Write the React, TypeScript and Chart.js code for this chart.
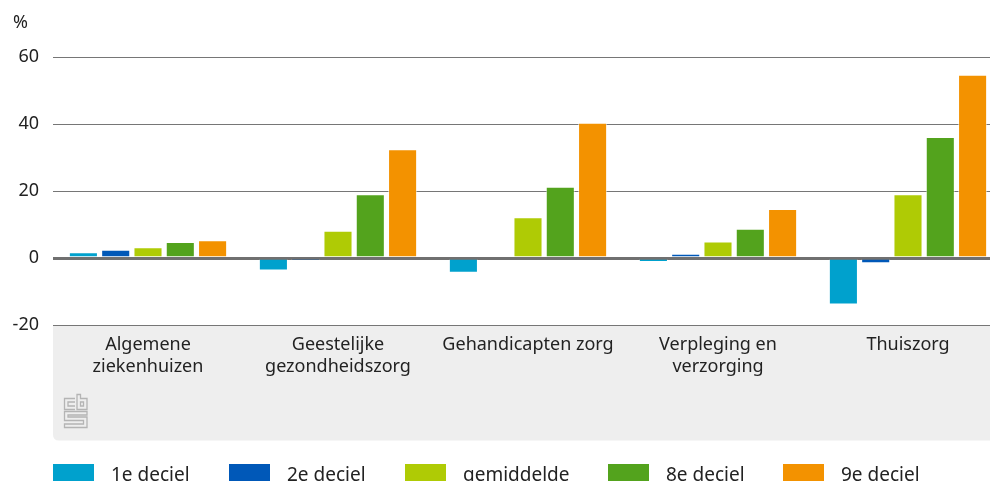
import React, { useEffect, useRef } from "react";
import { Chart, registerables } from "chart.js";

Chart.register(...registerables);

const categories: string[][] = [
  ["Algemene", "ziekenhuizen"],
  ["Geestelijke", "gezondheidszorg"],
  ["Gehandicapten zorg"],
  ["Verpleging en", "verzorging"],
  ["Thuiszorg"],
];
const seriesNames = ["1e deciel", "2e deciel", "gemiddelde", "8e deciel", "9e deciel"];
const seriesColors = ["#00A1CD", "#0058B8", "#AFCB05", "#53A31D", "#F39200"];
const deciel1 = [1.7, -3.7, -4.4, -1.2, -13.9];
const deciel2 = [2.5, -0.8, 0.4, 1.3, -1.6];
const gemiddelde = [3.2, 8.1, 12.2, 4.9, 19.0];
const deciel8 = [4.8, 19.0, 21.3, 8.7, 36.1];
const deciel9 = [5.3, 32.5, 40.4, 14.6, 54.7];
const yTicks = [-20, 0, 20, 40, 60];
const unitLabel = "%";

const FONT = "'Noto Sans', sans-serif";
const VIEW_W = 990;
const CANVAS_W = 1003;
const H = 481;
const LEGEND_X = [53, 229, 405, 608, 783];

const decorPlugin = {
  id: "decor",
  beforeDraw(chart: any) {
    const ctx = chart.ctx;
    const a = chart.chartArea;
    ctx.save();
    // gray label band
    const x0 = a.left, y0 = a.bottom, x1 = chart.width, y1 = 440.5, r = 6;
    ctx.fillStyle = "#eeeeee";
    ctx.beginPath();
    ctx.moveTo(x0, y0);
    ctx.lineTo(x1, y0);
    ctx.lineTo(x1, y1);
    ctx.lineTo(x0 + r, y1);
    ctx.quadraticCurveTo(x0, y1, x0, y1 - r);
    ctx.closePath();
    ctx.fill();
    // cbs logo
    ctx.strokeStyle = "#b4b4b4";
    ctx.lineWidth = 1.3;
    const lx = 64.5, ly = 394.5;
    // c
    ctx.beginPath();
    ctx.moveTo(lx + 10.5, ly + 4);
    ctx.lineTo(lx, ly + 4);
    ctx.lineTo(lx, ly + 15);
    ctx.lineTo(lx + 10.5, ly + 15);
    ctx.moveTo(lx + 10.5, ly + 7.5);
    ctx.lineTo(lx + 3.5, ly + 7.5);
    ctx.lineTo(lx + 3.5, ly + 11.5);
    ctx.lineTo(lx + 10.5, ly + 11.5);
    ctx.stroke();
    // b
    ctx.beginPath();
    ctx.moveTo(lx + 12.5, ly);
    ctx.lineTo(lx + 12.5, ly + 15);
    ctx.lineTo(lx + 22.5, ly + 15);
    ctx.lineTo(lx + 22.5, ly + 4);
    ctx.lineTo(lx + 16, ly + 4);
    ctx.lineTo(lx + 16, ly);
    ctx.closePath();
    ctx.moveTo(lx + 16, ly + 7.5);
    ctx.lineTo(lx + 19, ly + 7.5);
    ctx.lineTo(lx + 19, ly + 11.5);
    ctx.lineTo(lx + 16, ly + 11.5);
    ctx.closePath();
    ctx.stroke();
    // s meander
    ctx.beginPath();
    ctx.moveTo(lx + 22.5, ly + 17);
    ctx.lineTo(lx, ly + 17);
    ctx.lineTo(lx, ly + 26);
    ctx.lineTo(lx + 19, ly + 26);
    ctx.lineTo(lx + 19, ly + 29.5);
    ctx.lineTo(lx, ly + 29.5);
    ctx.lineTo(lx, ly + 33);
    ctx.lineTo(lx + 22.5, ly + 33);
    ctx.lineTo(lx + 22.5, ly + 22.5);
    ctx.lineTo(lx + 3.5, ly + 22.5);
    ctx.lineTo(lx + 3.5, ly + 20.5);
    ctx.lineTo(lx + 22.5, ly + 20.5);
    ctx.closePath();
    ctx.stroke();
    ctx.restore();
  },
  afterDraw(chart: any) {
    const ctx = chart.ctx;
    ctx.save();
    ctx.font = `18px ${FONT}`;
    ctx.fillStyle = "#222222";
    ctx.textBaseline = "alphabetic";
    ctx.textAlign = "left";
    ctx.fillText(unitLabel, 13, 28);
    // legend
    chart.data.datasets.forEach((ds: any, i: number) => {
      const x = LEGEND_X[i];
      ctx.fillStyle = ds.backgroundColor;
      ctx.fillRect(x, 464, 41, 20);
      ctx.fillStyle = "#222222";
      ctx.font = `19px ${FONT}`;
      ctx.fillText(ds.label, x + 58, 481);
    });
    ctx.restore();
  },
};

export default function App() {
  const ref = useRef<HTMLCanvasElement | null>(null);
  useEffect(() => {
    document.body.style.margin = "0";
    const values = [deciel1, deciel2, gemiddelde, deciel8, deciel9];
    const chart = new Chart(ref.current as HTMLCanvasElement, {
      type: "bar",
      data: {
        labels: categories as any,
        datasets: seriesNames.map((name, i) => ({
          label: name,
          data: values[i],
          backgroundColor: seriesColors[i],
          borderColor: "rgba(255,255,255,0.55)",
          borderWidth: 1,
          categoryPercentage: 0.85,
          barPercentage: 0.9,
        })),
      },
      options: {
        responsive: false,
        animation: false,
        layout: { padding: { top: 57, left: 0, right: 0, bottom: 0 } },
        plugins: {
          legend: { display: false },
          tooltip: { enabled: false },
        },
        scales: {
          x: {
            grid: { display: false, drawTicks: false },
            border: { display: false },
            ticks: {
              color: "#222222",
              font: { family: FONT, size: 18, lineHeight: 1.2 },
              padding: 9,
              maxRotation: 0,
              autoSkip: false,
            },
            afterFit(scale: any) {
              scale.height = H - 325;
            },
          },
          y: {
            min: -20,
            max: 60,
            afterBuildTicks(scale: any) {
              scale.ticks = yTicks.map((v) => ({ value: v }));
            },
            afterFit(scale: any) {
              scale.width = 53;
            },
            grid: {
              drawTicks: false,
              color: (c: any) => (c.tick && c.tick.value === 0 ? "#707070" : "#767676"),
              lineWidth: (c: any) => (c.tick && c.tick.value === 0 ? 3 : 1),
            },
            border: { display: false },
            ticks: {
              color: "#222222",
              font: { family: FONT, size: 18 },
              padding: 14,
            },
          },
        },
      },
      plugins: [decorPlugin],
    } as any);
    return () => chart.destroy();
  }, []);
  return (
    <div style={{ width: VIEW_W, height: H, position: "relative", overflow: "hidden" }}>
      <canvas ref={ref} width={CANVAS_W} height={H} style={{ display: "block" }} />
    </div>
  );
}
